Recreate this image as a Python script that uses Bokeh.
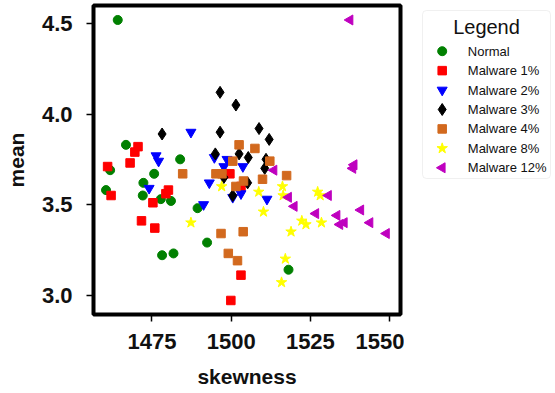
import math
from bokeh.plotting import figure
from bokeh.models import Range1d, FixedTicker, BoxAnnotation, ColumnDataSource
from bokeh.layouts import row
from bokeh.core.properties import value
from bokeh.embed import file_html
from bokeh.resources import INLINE

# ---- data ----
normal_x = [1464.2, 1466.8, 1483.9, 1461.8, 1475.7, 1472.3, 1460.5, 1472.1, 1477.8, 1481.0, 1478.2, 1481.8, 1489.4, 1492.4, 1518.1]
normal_y = [4.52, 3.83, 3.75, 3.69, 3.67, 3.62, 3.58, 3.55, 3.53, 3.52, 3.22, 3.23, 3.48, 3.29, 3.14]

mal1_x = [1470.6, 1469.6, 1468.1, 1461.0, 1462.1, 1480.2, 1479.4, 1475.3, 1471.7, 1475.9, 1503.1, 1499.9, 1499.6, 1503.1]
mal1_y = [3.82, 3.79, 3.73, 3.71, 3.55, 3.58, 3.56, 3.51, 3.41, 3.37, 3.11, 2.97, 3.67, 3.60]

mal2_x = [1476.3, 1477.1, 1474.1, 1487.3, 1491.3, 1493.1, 1494.7, 1498.7, 1503.7, 1500.5, 1503.1, 1511.3, 1497.7]
mal2_y = [3.77, 3.74, 3.59, 3.90, 3.50, 3.62, 3.76, 3.75, 3.71, 3.54, 3.56, 3.53, 3.71]

mal3_x = [1478.2, 1496.5, 1501.5, 1496.5, 1508.8, 1512.0, 1495.0, 1502.5, 1505.4, 1511.0, 1510.6, 1505.2, 1500.5, 1497.7]
mal3_y = [3.89, 4.12, 4.05, 3.90, 3.92, 3.86, 3.78, 3.78, 3.76, 3.75, 3.70, 3.62, 3.55, 3.65]

mal4_x = [1484.7, 1502.5, 1507.5, 1500.5, 1512.2, 1495.2, 1497.1, 1503.9, 1501.5, 1509.9, 1517.5, 1496.8, 1503.8, 1499.1, 1502.0]
mal4_y = [3.67, 3.83, 3.81, 3.74, 3.74, 3.67, 3.67, 3.63, 3.60, 3.64, 3.66, 3.34, 3.35, 3.23, 3.19]

mal8_x = [1487.3, 1497.0, 1508.7, 1510.2, 1516.2, 1516.4, 1527.3, 1528.1, 1522.3, 1523.6, 1528.5, 1518.9, 1517.1, 1515.9]
mal8_y = [3.40, 3.60, 3.57, 3.46, 3.60, 3.55, 3.57, 3.55, 3.41, 3.39, 3.40, 3.35, 3.20, 3.07]

mal12_x = [1537.5, 1513.5, 1538.8, 1538.4, 1530.7, 1518.1, 1519.9, 1526.7, 1540.9, 1533.4, 1534.3, 1535.7, 1543.8, 1549.0]
mal12_y = [4.52, 3.69, 3.72, 3.70, 3.55, 3.54, 3.49, 3.45, 3.47, 3.44, 3.39, 3.40, 3.40, 3.34]

series_names = ["Normal", "Malware 1%", "Malware 2%", "Malware 3%", "Malware 4%", "Malware 8%", "Malware 12%"]
series_x = [normal_x, mal1_x, mal2_x, mal3_x, mal4_x, mal8_x, mal12_x]
series_y = [normal_y, mal1_y, mal2_y, mal3_y, mal4_y, mal8_y, mal12_y]

x_ticks = [1475, 1500, 1525, 1550]
x_tick_labels = ["1475", "1500", "1525", "1550"]
y_ticks = [3.0, 3.5, 4.0, 4.5]
y_tick_labels = ["3.0", "3.5", "4.0", "4.5"]
legend_title = "Legend"

# ---- styles ----
colors = ["#008000", "#ff0000", "#0000ff", "#000000", "#d2691e", "#ffff00", "#bf00bf"]
markers = ["circle", "square", "inverted_triangle", "diamond", "square", "star", "triangle"]
sizes = [9, 8.5, 10, 12, 8.5, 11, 10]
angles = [0, 0, 0, 0, 0, 0, math.pi / 2]

FONT = "Liberation Sans"
TOP, BOTTOM = 5, 79
H = 393

# ---- main plot ----
p = figure(width=404, height=H, output_backend="svg", toolbar_location=None,
           x_range=Range1d(1456.55, 1553.45), y_range=Range1d(2.8925, 4.60),
           min_border_left=93, min_border_right=4, min_border_top=TOP, min_border_bottom=BOTTOM)
p.background_fill_color = "white"
p.border_fill_color = "white"
p.grid.visible = False
p.outline_line_color = "black"
p.outline_line_width = 4

for xs, ys, c, m, s, a in zip(series_x, series_y, colors, markers, sizes, angles):
    p.scatter(xs, ys, marker=m, size=s, fill_color=c, line_color=c, angle=a)

for ax in (p.xaxis, p.yaxis):
    ax.axis_line_color = None
    ax.major_tick_in = 0
    ax.major_tick_out = 7
    ax.major_tick_line_width = 1.5
    ax.minor_tick_line_color = None
    ax.major_label_text_font = FONT
    ax.major_label_text_font_size = "22px"
    ax.major_label_text_font_style = "bold"
    ax.major_label_text_color = "#111111"
    ax.axis_label_text_font = FONT
    ax.axis_label_text_font_size = "21px"
    ax.axis_label_text_font_style = "bold"
    ax.axis_label_text_color = "#111111"

p.xaxis.ticker = FixedTicker(ticks=x_ticks)
p.yaxis.ticker = FixedTicker(ticks=y_ticks)
p.xaxis.major_label_overrides = dict(zip(x_ticks, x_tick_labels))
p.yaxis.major_label_overrides = dict(zip(y_ticks, y_tick_labels))
p.xaxis.axis_label = "skewness"
p.yaxis.axis_label = "mean"
p.xaxis.major_label_standoff = 12
p.yaxis.major_label_standoff = 14
p.xaxis.axis_label_standoff = 13
p.yaxis.axis_label_standoff = 11

# ---- legend panel (canvas-pixel coordinates, y downward) ----
LW = 151
lf = figure(width=LW, height=H, output_backend="svg", toolbar_location=None,
            x_range=Range1d(0, LW), y_range=Range1d(H - BOTTOM, TOP),
            x_axis_type=None, y_axis_type=None,
            min_border_left=0, min_border_right=0, min_border_top=TOP, min_border_bottom=BOTTOM)
lf.grid.visible = False
lf.outline_line_color = None
lf.background_fill_color = "white"
lf.border_fill_color = "white"

box = BoxAnnotation(left=18, right=146, top=10, bottom=178, level="underlay",
                    fill_color="white", fill_alpha=1,
                    line_color="#cccccc", line_width=1, border_radius=4)
lf.add_layout(box)

row0, row_step = 50.7, 19.43
leg_src = ColumnDataSource(dict(
    y=[row0 + i * row_step for i in range(len(series_names))],
    mx=[37.7] * len(series_names),
    tx=[63.3] * len(series_names),
    name=series_names, color=colors, marker=markers, size=sizes, angle=angles,
))
lf.scatter(x="mx", y="y", source=leg_src, marker="marker", size="size",
           fill_color="color", line_color="color", angle="angle")
lf.text(x="tx", y="y", text="name", source=leg_src, text_font=value(FONT),
        text_font_size="13px", text_baseline="middle", text_align="left", text_color="#111111")
lf.text(x=[82], y=[26], text=[legend_title], text_font=value(FONT), text_font_size="20px",
        text_baseline="middle", text_align="center", text_color="#111111")

open("out.html", "w").write(file_html(row(p, lf), INLINE))
